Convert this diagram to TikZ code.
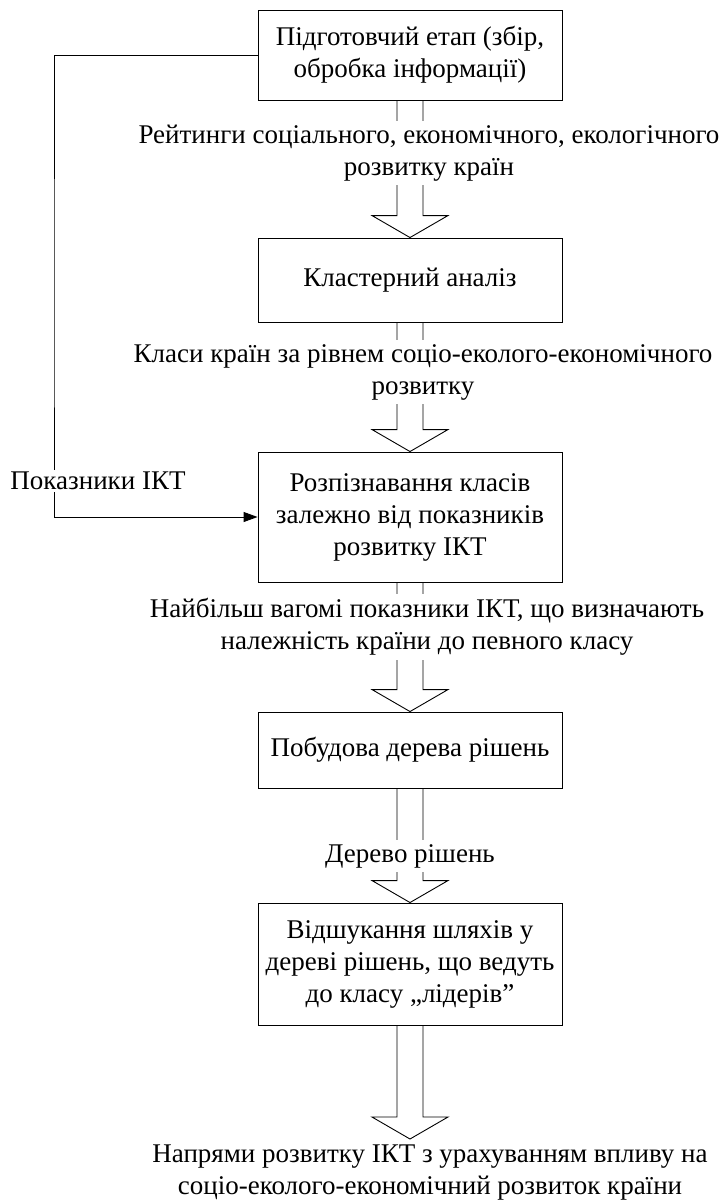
\documentclass[tikz,border=0pt]{standalone}
\usepackage{fontspec}
\setmainfont{Liberation Serif}
\usetikzlibrary{calc,arrows.meta}
\newcommand\blkarrow[2]{%
  \draw[blk] ($(#1.south)+(-13,0)$) -- ($(#2)+(-13,-22)$) -- ($(#2)+(-38,-22)$) -- (#2)
    -- ($(#2)+(38,-22)$) -- ($(#2)+(13,-22)$) -- ($(#1.south)+(13,0)$);}
\begin{document}
\begin{tikzpicture}[x=1pt,y=-1pt,
  every node/.style={font=\fontsize{27}{32}\selectfont},
  box/.style={draw,line width=0.9pt,minimum width=304pt,align=center,inner sep=4pt},
  lbl/.style={fill=white,align=center,inner sep=4pt},
  blk/.style={line width=0.9pt},
  conn/.style={line width=0.9pt}]
\useasboundingbox (0,0) rectangle (720,1201);
\node[box,minimum height=90pt] (b1) at (410,55) {Підготовчий етап (збір,\\обробка інформації)};
\node[box,minimum height=84pt] (b2) at (410,280) {Кластерний аналіз};
\node[box,minimum height=130pt] (b3) at (410,517) {Розпізнавання класів\\залежно від показників\\розвитку ІКТ};
\node[box,minimum height=76pt] (b4) at (410,750) {Побудова дерева рішень};
\node[box,minimum height=122pt] (b5) at (410,964) {Відшукання шляхів у\\дереві рішень, що ведуть\\до класу „лідерів”};
\coordinate (tip) at (410,1139);
\blkarrow{b1}{b2.north}
\blkarrow{b2}{b3.north}
\blkarrow{b3}{b4.north}
\blkarrow{b4}{b5.north}
\blkarrow{b5}{tip}
\coordinate (cL) at (54,300);
\draw[conn,-{Triangle[length=14pt,width=10pt]}] (b1.west) -| (cL) |- (b3.west);
\node[lbl] (t1) at (429,153) {Рейтинги соціального, економічного, екологічного\\розвитку країн};
\node[lbl] (t2) at (423,372) {Класи країн за рівнем соціо-еколого-економічного\\розвитку};
\node[lbl] (t3) at (427,627) {Найбільш вагомі показники ІКТ, що визначають\\належність країни до певного класу};
\node[lbl] (t4) at (410,856) {Дерево рішень};
\node[lbl,inner sep=2pt] (pk) at (98,481) {Показники ІКТ};
\node[align=center] (t5) at (430,1173) {Напрями розвитку ІКТ з урахуванням впливу на\\соціо-еколого-економічний розвиток країни};
\end{tikzpicture}
\end{document}
